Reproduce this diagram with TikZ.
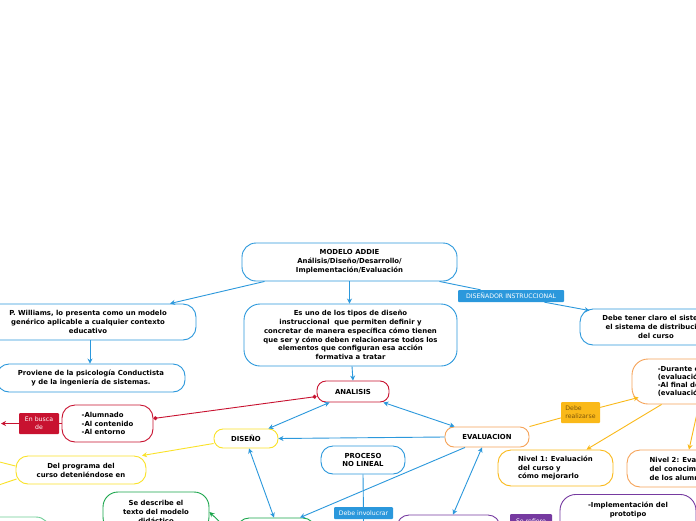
\documentclass[tikz,border=0pt]{standalone}
\usepackage{fontspec}
\setmainfont{DejaVu Sans}
\usepackage{xcolor}
\usetikzlibrary{arrows.meta, positioning}

\definecolor{azul}{RGB}{43,152,220}
\definecolor{rojo}{RGB}{200,18,48}
\definecolor{amarillo}{RGB}{250,226,40}
\definecolor{naranja}{RGB}{246,163,88}
\definecolor{ambar}{RGB}{250,185,25}
\definecolor{cafe}{RGB}{125,85,10}
\definecolor{verde}{RGB}{25,165,75}
\definecolor{verdeclaro}{RGB}{110,205,150}
\definecolor{morado}{RGB}{118,58,160}

\begin{document}
\begin{tikzpicture}[x=1pt, y=-1pt,
                    box/.style={
                        draw,
                        rounded corners=9pt,
                        line width=0.9pt,
                        align=center,
                        inner sep=2pt,
                        font=\fontsize{6.9}{8.9}\selectfont\bfseries
                    },
                    lbl/.style={
                        rounded corners=1pt,
                        inner sep=0pt,
                        align=center,
                        text=white,
                        font=\fontsize{6.2}{7.8}\selectfont
                    },
                    arrow/.style={
                        -{Stealth[length=5pt,width=5pt]},
                        line width=0.9pt
                    },
                    dblarrow/.style={
                        {Stealth[length=5pt,width=5pt]}-{Stealth[length=5pt,width=5pt]},
                        line width=0.9pt
                    },
                    link/.style={
                        line width=0.9pt
                    }
                ]

                \useasboundingbox (0,0) rectangle (696,520);
                \fill[white] (0,0) rectangle (696,520);
                \clip (0,0) rectangle (696,520);

                % Nodo central y ramas de arriba
                \node[box, draw=azul, rounded corners=14pt, minimum width=215pt, minimum height=38pt] (addie) at (349.5,262)
                    {MODELO ADDIE\\Análisis/Diseño/Desarrollo/\\Implementación/Evaluación};
                \node[box, draw=azul, rounded corners=13pt, minimum width=216pt, minimum height=36pt] (williams) at (88,322)
                    {P. Williams, lo presenta como un modelo\\genérico aplicable a cualquier contexto\\educativo};
                \node[box, draw=azul, rounded corners=12pt, minimum width=188pt, minimum height=28pt] (proviene) at (91,378)
                    {Proviene de la psicología Conductista\\y de la ingeniería de sistemas.};
                \node[box, draw=azul, rounded corners=16pt, minimum width=213pt, minimum height=62pt] (tipos) at (350.5,335)
                    {Es uno de los tipos de diseño\\instruccional\ \ que permiten definir y\\concretar de manera específica cómo tienen\\que ser y cómo deben relacionarse todos los\\elementos que configuran esa acción\\formativa a tratar};
                \node[box, draw=azul, rounded corners=13pt, minimum width=152pt, minimum height=36pt] (tener) at (656,327)
                    {Debe tener claro el sistema\\el sistema de distribución\\del curso};
                \node[lbl, fill=azul, minimum width=106pt, minimum height=12pt] (disenador) at (511,296) {DISEÑADOR INSTRUCCIONAL};

                % Fases
                \node[box, draw=rojo, minimum width=72pt, minimum height=21pt] (analisis) at (353,391.5) {ANALISIS};
                \node[box, draw=amarillo, minimum width=64pt, minimum height=19pt] (diseno) at (246,438.5) {DISEÑO};
                \node[box, draw=naranja, minimum width=84pt, minimum height=20pt] (evaluacion) at (487,437) {EVALUACION};
                \node[box, draw=azul, rounded corners=12pt, minimum width=84pt, minimum height=28pt] (proceso) at (363,460) {PROCESO\\NO LINEAL};
                \node[box, draw=verde, rounded corners=12pt, minimum width=78pt, minimum height=40pt] (desarrollo) at (276,538) {};
                \node[box, draw=morado, rounded corners=12pt, minimum width=103pt, minimum height=46pt] (implem) at (448.5,538) {};

                % Rama de analisis
                \node[box, draw=rojo, rounded corners=13pt, minimum width=91pt, minimum height=37pt, align=left] (alumnado) at (107.5,423.5)
                    {-Alumnado\\-Al contenido\\-Al entorno};
                \node[lbl, fill=rojo, minimum width=40pt, minimum height=21pt] (busca) at (39,423.5) {En busca\\de};
                \coordinate (izq) at (1,423.5);

                % Rama de diseno
                \node[box, draw=amarillo, rounded corners=12pt, minimum width=130pt, minimum height=28pt] (programa) at (81,470)
                    {Del programa del\\curso deteniéndose en};
                \coordinate (progA) at (-40,452);
                \coordinate (progB) at (-40,498);
                \node[box, draw=verde, rounded corners=15pt, minimum width=106pt, minimum height=40pt] (describe) at (156,512)
                    {Se describe el\\texto del modelo\\didáctico};
                \node[box, draw=verdeclaro, rounded corners=14pt, minimum width=100pt, minimum height=46pt] (verdeizq) at (0,540) {};

                % Rama de proceso
                \node[lbl, fill=azul, minimum width=59pt, minimum height=12pt] (involucrar) at (363.5,513) {Debe involucrar};
                \coordinate (abajo) at (363.5,540);

                % Rama de implementacion
                \node[lbl, fill=morado, minimum width=42pt, minimum height=14pt] (refiere) at (531,521) {Se refiere};
                \node[box, draw=morado, rounded corners=16pt, minimum width=136pt, anchor=north, text depth=30pt, inner ysep=8pt] (prototipo) at (628,494)
                    {-Implementación del\\prototipo};

                % Rama de evaluacion
                \node[lbl, fill=ambar, text=cafe, align=left, minimum width=39pt, minimum height=21pt] (realizarse) at (580.5,412.5)
                    {Debe\\realizarse};
                \node[box, draw=naranja, rounded corners=16pt, minimum width=140pt, minimum height=45pt, align=left,
                      font=\fontsize{6.9}{8.2}\selectfont\bfseries] (durante) at (702,381.5)
                    {-Durante el curso\\(evaluación formativa)\\-Al final del curso\\(evaluación sumativa)};
                \node[box, draw=ambar, rounded corners=13pt, minimum width=115pt, minimum height=36pt, align=left] (nivel1) at (555.5,468)
                    {Nivel 1: Evaluación\\del curso y\\cómo mejorarlo};
                \node[box, draw=naranja, rounded corners=13pt, minimum width=120pt, minimum height=37pt, align=left] (nivel2) at (687,468.5)
                    {Nivel 2: Evaluación\\del conocimiento\\de los alumnos};

                % Conectores azules
                \draw[arrow, azul] ([xshift=-85pt]addie.south) -- ([xshift=82pt]williams.north);
                \draw[arrow, azul] (addie.south) -- ([xshift=-1pt]tipos.north);
                \draw[link, azul] ([xshift=90pt]addie.south) -- (disenador);
                \draw[arrow, azul] (disenador) -- ([xshift=10pt,yshift=-2pt]tener.north west);
                \draw[arrow, azul] ([xshift=2pt]williams.south) -- ([xshift=-1pt]proviene.north);
                \draw[arrow, azul] ([xshift=1.5pt]tipos.south) -- (analisis.north);
                \draw[dblarrow, azul] ([xshift=13pt]analisis.south west) -- ([xshift=-10pt]diseno.north east);
                \draw[dblarrow, azul] ([xshift=-6pt]analisis.south east) -- ([xshift=10pt]evaluacion.north west);
                \draw[arrow, azul] (evaluacion.west) -- (diseno.east);
                \draw[dblarrow, azul] ([xshift=3pt]diseno.south) -- ([xshift=-2pt]desarrollo.north);
                \draw[arrow, azul] ([xshift=-22pt]evaluacion.south) -- ([xshift=24pt]desarrollo.north);
                \draw[dblarrow, azul] ([xshift=-5pt]evaluacion.south) -- ([xshift=4.5pt]implem.north);
                \draw[link, azul] (proceso.south) -- (involucrar);
                \draw[link, azul] (involucrar) -- (abajo);

                % Conectores de color
                \draw[link, rojo, {Circle[length=4pt]}-{Circle[length=4pt]}] ([yshift=-5pt]analisis.west) -- ([yshift=5pt]alumnado.east);
                \draw[link, rojo] (alumnado) -- (busca);
                \draw[arrow, rojo] (busca) -- (izq);
                \draw[arrow, amarillo] ([yshift=-5pt]diseno.west) -- ([xshift=61pt]programa.north);
                \draw[link, amarillo] ([yshift=4pt]programa.west) -- (progA);
                \draw[link, amarillo] ([xshift=1pt,yshift=-9pt]programa.west) -- (progB);
                \draw[arrow, verde] (desarrollo.west) -- (describe.east);
                \draw[link, morado] (implem) -- (refiere);
                \draw[arrow, morado] (refiere) -- (prototipo.west);
                \draw[link, ambar] (evaluacion.north east) -- (realizarse);
                \draw[arrow, ambar] (realizarse) -- ([xshift=7pt,yshift=7pt]durante.south west);
                \draw[arrow, ambar] ([xshift=30pt]durante.south west) -- ([xshift=31pt]nivel1.north);
                \draw[arrow, ambar] ([xshift=-3pt]durante.south) -- ([xshift=2pt]nivel2.north);

            \end{tikzpicture}
\end{document}
